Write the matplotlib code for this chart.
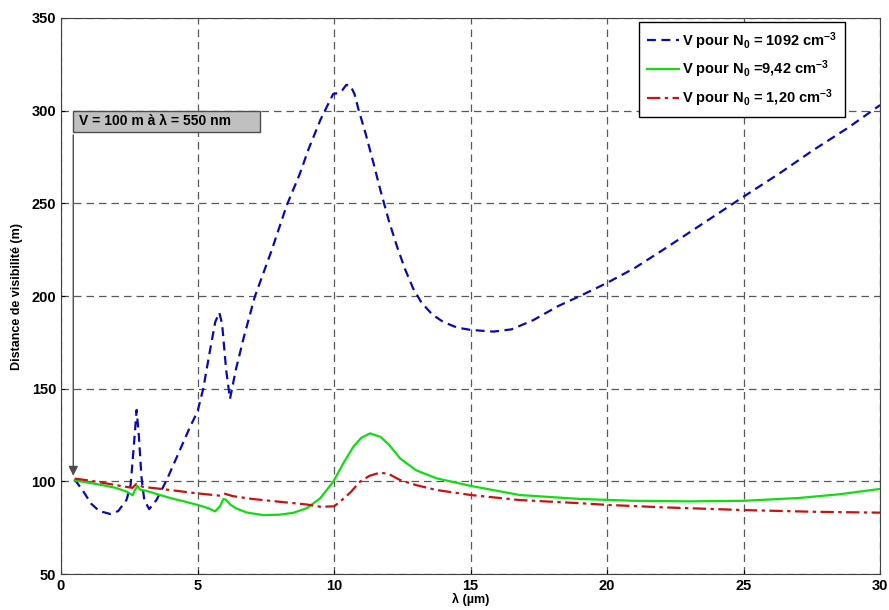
import numpy as np
import matplotlib
matplotlib.use("Agg")
import matplotlib.pyplot as plt
from matplotlib.patches import Rectangle

plt.rcParams['font.family'] = ['Liberation Sans', 'DejaVu Sans']
plt.rcParams['font.weight'] = 'bold'
plt.rcParams['mathtext.fontset'] = 'custom'
plt.rcParams['mathtext.rm'] = 'Liberation Sans:bold'
plt.rcParams['mathtext.bf'] = 'Liberation Sans:bold'
plt.rcParams['mathtext.default'] = 'bf'

# N0 = 1092 cm-3
x_blue = [0.5, 0.8, 1.1, 1.4, 1.8, 2.1, 2.4, 2.55, 2.7, 2.77, 2.85, 2.95, 3.05, 3.23, 3.5,
          3.87, 4.3, 4.73, 5.0, 5.21, 5.45, 5.65, 5.8, 5.9, 6.05, 6.19, 6.4, 6.7, 7.1, 7.7,
          8.27, 8.75, 9.06, 9.5, 9.8, 9.97, 10.15, 10.3, 10.45, 10.6, 10.75, 10.89, 11.15,
          11.44, 11.7, 12.0, 12.3, 12.6, 12.9, 13.2, 13.6, 14.0, 14.5, 15.0, 15.84, 16.5, 17.3,
          18.2, 19.01, 19.99, 21.0, 22.06, 23.53, 25.0, 26.3, 27.56, 28.8, 30.0]
y_blue = [101, 95, 88, 84, 82.4, 84, 90, 98, 125, 138.5, 125, 102, 90, 85, 90,
          100.7, 115, 129.5, 137.6, 150, 170, 186, 191, 185, 160, 144.5, 160, 178, 199.7, 224,
          249, 266, 279, 295, 304, 309, 309.5, 311, 313.9, 313.5, 309, 301, 288,
          272, 257, 241, 227, 214.5, 204, 196.5, 190, 186, 183, 181.7, 180.8, 182, 187,
          194.5, 200, 207, 215, 225, 239.3, 253.6, 266, 278.8, 290.5, 303]

# N0 = 9,42 cm-3
x_green = [0.5, 1.0, 1.5, 2.0, 2.4, 2.62, 2.72, 2.8, 2.9, 3.1, 3.5, 4.0, 4.5, 5.0, 5.4, 5.64,
           5.82, 5.95, 6.05, 6.2, 6.4, 6.8, 7.4, 8.0, 8.5, 9.0, 9.49, 9.97, 10.35, 10.71, 11.0,
           11.32, 11.7, 12.0, 12.42, 13.0, 13.76, 15.02, 16.81, 19.01, 21.0, 23.0, 25.0, 27.0,
           28.5, 30.0]
y_green = [100.5, 99.3, 98, 96.5, 94.5, 92.5, 95.5, 97.5, 95.5, 95, 93.2, 91, 89.2, 87.3, 85.5, 83.8,
           86.5, 90.5, 90, 87.5, 85.5, 83.2, 81.8, 82, 83, 85.5, 90.8, 99.8, 110, 118.7, 123.5,
           125.9, 124, 120, 112.4, 106, 101.6, 97.5, 92.6, 90.5, 89.5, 89.2, 89.5, 91,
           93, 95.9]

# N0 = 1,20 cm-3
x_red = [0.5, 1.0, 1.5, 2.0, 2.4, 2.62, 2.75, 2.85, 3.0, 3.5, 4.0, 5.0, 5.8, 6.0, 6.3, 7.0, 8.0,
         9.0, 9.49, 10.0, 10.22, 10.6, 10.95, 11.3, 11.68, 12.0, 12.42, 13.0, 13.76, 15.02, 16.81,
         19.01, 20.0, 22.0, 25.0, 27.5, 30.0]
y_red = [101.5, 100.5, 99.3, 98, 97, 96.5, 98.5, 98.3, 97, 96.2, 95.3, 93.5, 92.3, 93.3, 92, 90.5, 89,
         87.5, 86.3, 86.5, 89, 94, 99.8, 103, 104.7, 104, 100.7, 98, 95.3, 92.6, 89.9,
         88.2, 87.3, 86, 84.5, 83.6, 83.1]

labels = [r'V pour N$_0$ = 1092 cm$^{-3}$',
          r'V pour N$_0$ =9,42 cm$^{-3}$',
          r'V pour N$_0$ = 1,20 cm$^{-3}$']

fig = plt.figure(figsize=(8.89, 6.10), dpi=100)
ax = fig.add_axes([0.0686, 0.059, 0.9214, 0.9115])

ax.plot(x_blue, y_blue, color='#0a0ab4', lw=1.6, ls=(0, (4, 2.5)), label=labels[0])
ax.plot(x_green, y_green, color='#10dd10', lw=1.6, ls='-', label=labels[1])
ax.plot(x_red, y_red, color='#cc1010', lw=1.6, ls=(0, (6, 2, 1.5, 2)), label=labels[2])

ax.set_xlim(0, 30)
ax.set_ylim(50, 350)
ax.set_xticks(range(0, 31, 5))
ax.set_yticks(range(50, 351, 50))
ax.grid(True, ls=(0, (6, 4)), color='0.35', lw=0.9)
ax.tick_params(labelsize=10.5, direction='in', length=3)
for s in ax.spines.values():
    s.set_color('0.25')

ax.set_xlabel('λ (µm)', fontsize=9, fontweight='bold', labelpad=0)
ax.set_ylabel('Distance de visibilité (m)', fontsize=9, fontweight='bold', labelpad=6)

# annotation box + arrow
ax.add_patch(Rectangle((0.43, 288.4), 6.87, 11.6, facecolor='#c0c0c0', edgecolor='0.3', lw=1, zorder=4))
ax.text(0.65, 294.2, 'V = 100 m à λ = 550 nm', fontsize=10, fontweight='bold', va='center', zorder=5)
ax.annotate('', xy=(0.45, 101.5), xytext=(0.45, 288.4),
            arrowprops=dict(arrowstyle='-|>', color='0.3', lw=1, mutation_scale=14), zorder=3)

leg = ax.legend(loc='upper right', bbox_to_anchor=(0.957, 0.993), borderaxespad=0,
                fontsize=10.5, frameon=True, fancybox=False, edgecolor='black', framealpha=1,
                handlelength=2.2, handletextpad=0.2, labelspacing=0.5, borderpad=0.55)
leg.get_frame().set_linewidth(1)

fig.savefig('out.png', dpi=100)
